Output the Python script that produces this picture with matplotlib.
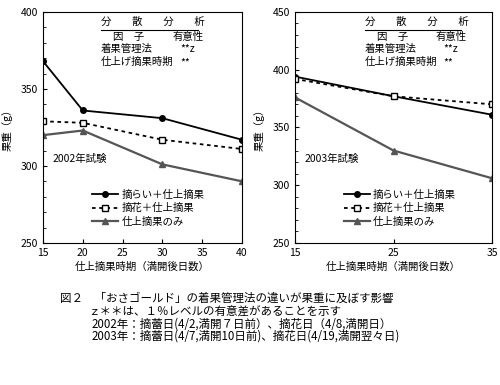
import matplotlib.pyplot as plt
from matplotlib.ticker import MultipleLocator

plt.rcParams['font.family'] = ['Noto Sans CJK JP', 'DejaVu Sans']

days_2002 = [15, 20, 30, 40]
tekirai_2002 = [368, 336, 331, 317]
tekika_2002 = [329, 328, 317, 311]
shiage_2002 = [320, 323, 301, 290]

days_2003 = [15, 25, 35]
tekirai_2003 = [394, 377, 361]
tekika_2003 = [392, 377, 370]
shiage_2003 = [376, 330, 306]

labels = ['摘らい＋仕上摘果', '摘花＋仕上摘果', '仕上摘果のみ']
caption = [
    '図２　「おさゴールド」の着果管理法の違いが果重に及ぼす影響',
    'ｚ＊＊は、１％レベルの有意差があることを示す',
    '2002年：摘蕾日(4/2,満開７日前）、摘花日（4/8,満開日）',
    '2003年：摘蕾日(4/7,満開10日前)、摘花日(4/19,満開翌々日)',
]

fig = plt.figure(figsize=(5, 3.85), dpi=100)
ax1 = fig.add_axes([0.086, 0.369, 0.398, 0.6])
ax2 = fig.add_axes([0.59, 0.369, 0.394, 0.6])

gray = '#555555'


def draw(ax, x, a, b, c, ylim, xticks, year, xt, legx):
    ax.plot(x, a, color='black', marker='o', markersize=4, linewidth=1.3, label=labels[0])
    ax.plot(x, b, color='black', marker='s', markersize=5, markerfacecolor='white',
            linestyle=(0, (2, 2)), linewidth=1.3, label=labels[1])
    ax.plot(x, c, color=gray, marker='^', markersize=5, markerfacecolor=gray,
            linewidth=1.6, label=labels[2])
    ax.set_xlim(xticks[0], xticks[-1])
    ax.set_ylim(*ylim)
    ax.set_xticks(xticks)
    ax.yaxis.set_major_locator(MultipleLocator(50))
    ax.yaxis.set_minor_locator(MultipleLocator(10))
    ax.tick_params(direction='in', labelsize=7.5, length=3)
    ax.tick_params(which='minor', direction='in', length=2)
    ax.set_xlabel('仕上摘果時期（満開後日数）', fontsize=7.5, labelpad=3)
    ax.set_ylabel('果重（g）', fontsize=7.5, labelpad=6)
    ax.text(0.05, 0.35, year, transform=ax.transAxes, fontsize=7.5)
    # ANOVA box
    ax.text(xt, 0.945, '分　　散　　分　　析', transform=ax.transAxes, fontsize=7.5)
    ax.plot([xt, xt + 0.49], [0.92, 0.92], transform=ax.transAxes, color='black', linewidth=0.8)
    ax.text(xt + 0.06, 0.88, '因　子', transform=ax.transAxes, fontsize=7.5)
    ax.text(xt + 0.36, 0.88, '有意性', transform=ax.transAxes, fontsize=7.5)
    ax.text(xt, 0.825, '着果管理法', transform=ax.transAxes, fontsize=7.5)
    ax.text(xt + 0.4, 0.825, '**z', transform=ax.transAxes, fontsize=7.5)
    ax.text(xt, 0.77, '仕上げ摘果時期', transform=ax.transAxes, fontsize=7.5)
    ax.text(xt + 0.4, 0.77, '**', transform=ax.transAxes, fontsize=7.5)
    ax.legend(loc='lower left', bbox_to_anchor=(legx, 0.03), frameon=False,
              fontsize=7.5, handlelength=2.5, labelspacing=0.3, handletextpad=0.3)


draw(ax1, days_2002, tekirai_2002, tekika_2002, shiage_2002, (250, 400),
     [15, 20, 25, 30, 35, 40], '2002年試験', 0.29, 0.2)
draw(ax2, days_2003, tekirai_2003, tekika_2003, shiage_2003, (250, 450),
     [15, 25, 35], '2003年試験', 0.355, 0.2)

ys = [0.224, 0.191, 0.159, 0.127]
xs = [0.12, 0.176, 0.184, 0.184]
for t, x, y in zip(caption, xs, ys):
    fig.text(x, y, t, fontsize=8.3, va='center')

fig.savefig('out.png', dpi=100)
